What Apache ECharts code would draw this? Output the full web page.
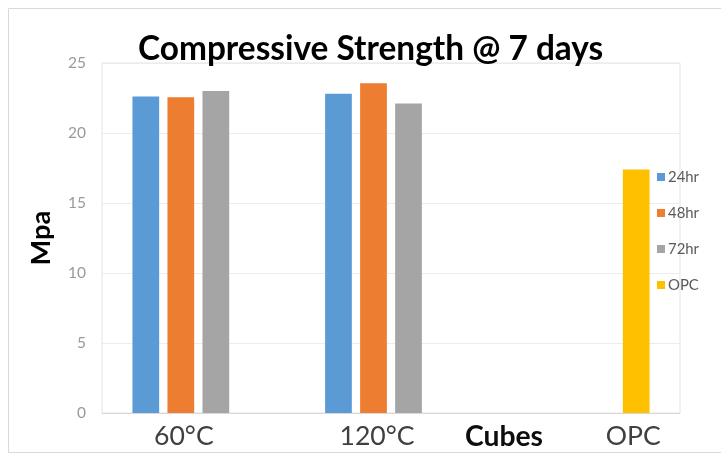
<!DOCTYPE html>
<html>
<head>
<meta charset="utf-8">
<script src="https://cdn.jsdelivr.net/npm/echarts@6/dist/echarts.min.js"></script>
<style>
html,body{margin:0;padding:0;background:#fff;}
#c{width:721px;height:457px;}
</style>
</head>
<body>
<div id="c"></div>
<script>
// ---- data ----
const categories = ['60°C', '120°C', 'OPC'];
const seriesNames = ['24hr', '48hr', '72hr', 'OPC'];
const h24 = [22.6, 22.8, null];
const h48 = [22.55, 23.55, null];
const h72 = [23.0, 22.1, null];
const opc = [null, null, 17.4];
const yTicks = [0, 5, 10, 15, 20, 25];
const titleText = 'Compressive Strength @ 7 days';
const xName = 'Cubes';
const yName = 'Mpa';

// ---- styling helpers ----
const FAM = 'Lato';
function measure(text, weight, size) {
  const ctx = document.createElement('canvas').getContext('2d');
  ctx.font = weight + ' ' + size + 'px ' + FAM;
  return ctx.measureText(text).width;
}
function fit(text, weight, target) {
  return Math.round(target / measure(text, weight, 100) * 1000) / 10;
}
const titleSize = fit(titleText, 'bold', 465);
const titleLeft = Math.round(370.5 - measure(titleText, 'bold', titleSize) / 2);
const catSize = fit('120°C', 'normal', 75);
const cubesSize = fit(xName, 'bold', 78);
const mpaSize = fit(yName, 'bold', 55);
const legSize = fit('24hr', 'normal', 31);
const ySize = fit('20', 'normal', 18);

const colors = ['#5b9bd5', '#ed7d31', '#a5a5a5', '#ffc000'];
const labelShift = {'60°C': 'a', '120°C': 'b', 'OPC': 'c'};

const chart = echarts.init(document.getElementById('c'), null, {renderer: 'canvas'});
const allSeries = [h24, h48, h72, opc];
chart.setOption({
  animation: false,
  color: colors,
  title: {
    text: titleText,
    left: titleLeft,
    top: 33,
    padding: 0,
    textStyle: {fontFamily: FAM, fontWeight: 'bold', fontSize: titleSize, color: '#000', lineHeight: titleSize}
  },
  graphic: [{
    type: 'rect', silent: true, z: -10,
    shape: {x: 8.5, y: 8.5, width: 760, height: 444},
    style: {fill: 'none', stroke: '#d9d9d9', lineWidth: 1}
  }],
  legend: {
    orient: 'vertical',
    left: 652,
    top: 164,
    itemWidth: 8,
    itemHeight: 8,
    itemGap: 20,
    icon: 'rect',
    data: seriesNames,
    textStyle: {fontFamily: FAM, fontSize: legSize, color: '#595959', lineHeight: 16, padding: [0, 0, 0, -2]}
  },
  grid: {
    left: 102, right: 41, top: 63, bottom: 44,
    containLabel: false,
    outerBoundsMode: 'none',
    show: true, borderColor: '#e3e3e3', borderWidth: 1
  },
  xAxis: {
    type: 'category',
    data: categories,
    name: xName,
    nameLocation: 'middle',
    nameGap: 10,
    nameMoveOverlap: false,
    nameTextStyle: {fontFamily: FAM, fontWeight: 'bold', fontSize: cubesSize, color: '#0d0d0d', padding: [0, 0, 0, 226], lineHeight: cubesSize},
    axisTick: {show: false},
    axisLine: {lineStyle: {color: '#d9d9d9'}},
    axisLabel: {
      margin: 10,
      formatter: function (v) { return '{' + labelShift[v] + '|' + v + '}'; },
      rich: {
        a: {fontFamily: FAM, fontSize: catSize, color: '#404040', lineHeight: catSize, padding: [0, 29, 0, 0]},
        b: {fontFamily: FAM, fontSize: catSize, color: '#404040', lineHeight: catSize, padding: [0, 28, 0, 0]},
        c: {fontFamily: FAM, fontSize: catSize, color: '#404040', lineHeight: catSize, padding: [0, 0, 0, 99]}
      }
    }
  },
  yAxis: {
    type: 'value',
    min: yTicks[0],
    max: yTicks[yTicks.length - 1],
    interval: yTicks[1] - yTicks[0],
    name: yName,
    nameLocation: 'middle',
    nameGap: 47,
    nameMoveOverlap: false,
    nameTextStyle: {fontFamily: FAM, fontWeight: 'bold', fontSize: mpaSize, color: '#000'},
    axisLine: {show: false},
    axisTick: {show: false},
    axisLabel: {margin: 16, fontFamily: FAM, fontSize: ySize, color: '#9a9a9a'},
    splitLine: {lineStyle: {color: '#ececec'}}
  },
  series: allSeries.map(function (d, i) {
    return {
      name: seriesNames[i],
      type: 'bar',
      data: d,
      barGap: '31%',
      barCategoryGap: '31.6%',
      itemStyle: {color: colors[i]}
    };
  })
});
</script>
</body>
</html>
